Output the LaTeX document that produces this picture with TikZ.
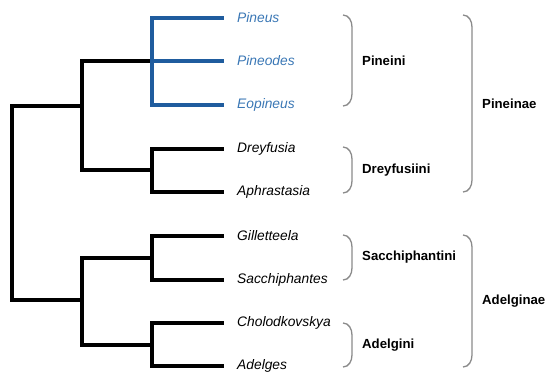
\documentclass[tikz,border=0pt]{standalone}
\usepackage{fontspec}
\setmainfont{Liberation Sans}
\usepackage{xcolor}
\usepackage{tikz}
\definecolor{cladeblue}{HTML}{1F5C9E}
\definecolor{taxonblue}{HTML}{3A77B5}
\definecolor{bracegray}{HTML}{8A8A8A}
\begin{document}
\begin{tikzpicture}[x=1pt, y=-1pt,
  branch/.style={line width=3.4pt, line join=miter, black},
  bluebranch/.style={branch, cladeblue},
  taxon/.style={anchor=west, inner xsep=13pt, inner ysep=0pt, font=\fontsize{13.8}{16}\selectfont\itshape},
  brk/.style={bracegray, line width=1.3pt},
  grp/.style={anchor=west, inner sep=0pt, font=\fontsize{13.2}{16}\selectfont\bfseries}]
\useasboundingbox (0,0) rectangle (546,373);
% internal nodes of the tree
\coordinate (root) at (12,203);
\coordinate (pinein) at (82,106);
\coordinate (adelgin) at (82,300);
\coordinate (pinei) at (152,61);
\coordinate (dreyf) at (152,170);
\coordinate (sacch) at (152,258);
\coordinate (adelgi) at (152,345);
% tips
\foreach \n/\y/\t/\c in {pineus/18/Pineus/taxonblue, pineodes/61/Pineodes/taxonblue,
                         eopineus/105/Eopineus/taxonblue, dreyfusia/149/Dreyfusia/black,
                         aphrastasia/192/Aphrastasia/black, gilletteela/236/Gilletteela/black,
                         sacchiphantes/280/Sacchiphantes/black, cholodkovskya/323/Cholodkovskya/black,
                         adelges/366/Adelges/black}{
  \node[taxon, text=\c] (\n) at (224,\y) {\t};
}
\foreach \a/\b in {root/pinein, root/adelgin, pinein/pinei, pinein/dreyf, adelgin/sacch, adelgin/adelgi}{
  \draw[branch] (\a) |- (\b);
}
\foreach \a/\b in {dreyf/dreyfusia, dreyf/aphrastasia, sacch/gilletteela, sacch/sacchiphantes,
                   adelgi/cholodkovskya, adelgi/adelges}{
  \draw[branch] (\a) |- (\b.west);
}
\foreach \b in {pineus, pineodes, eopineus}{
  \draw[bluebranch] (pinei) |- (\b.west);
}
% brackets and group names
\foreach \top/\bot/\lx/\n/\t in {15/106/362/pineini/Pineini, 147/193/362/dreyfusiini/Dreyfusiini,
                                 235/280/362/sacchiphantini/Sacchiphantini, 323/367/362/adelgini/Adelgini,
                                 15/192/482/pineinae/Pineinae, 235/367/482/adelginae/Adelginae}{
  \draw[brk] ({\lx-19},\top) to[out=0, in=90] ({\lx-10},{\top+12}) -- ({\lx-10},{\bot-12})
             to[out=-90, in=0] ({\lx-19},\bot);
  \node[grp] (\n) at (\lx,{(\top+\bot)/2}) {\t};
}
\end{tikzpicture}
\end{document}
